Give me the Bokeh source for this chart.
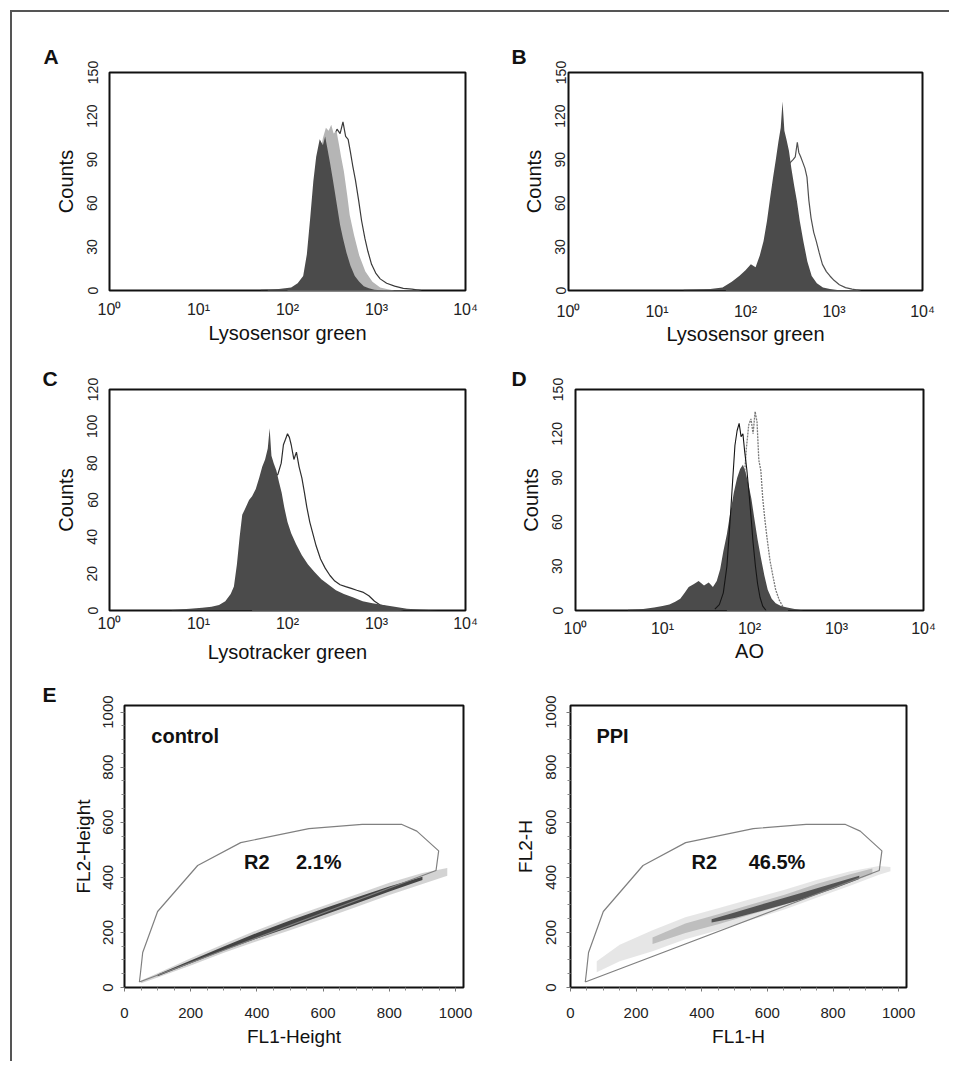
from bokeh.plotting import figure
from bokeh.layouts import column, row
from bokeh.models import FixedTicker, Range1d, Label
from bokeh.embed import file_html
from bokeh.resources import INLINE

FONT = "Liberation Sans"
DARK = "#4b4b4b"
LIGHT = "#b5b5b5"
EDGE = "#3a3a3a"

# ---------------- data ----------------
LOG_TICKS = [1, 10, 100, 1000, 10000]
LOG_TICK_LABELS = ["10\u2070", "10\u00b9", "10\u00b2", "10\u00b3", "10\u2074"]

# Panel A (Lysosensor green)
A_dark_x = [50, 80, 110, 130, 150, 165, 180, 195, 210, 230, 250, 265, 280, 300, 320, 340, 365, 390, 420, 460, 510, 570, 640, 720, 820, 950, 1200]
A_dark_y = [0.5, 1, 2, 5, 10, 25, 50, 75, 92, 104, 100, 106, 98, 88, 78, 68, 56, 45, 36, 26, 17, 10, 6, 3, 1.5, 0.5, 0]
A_light_x = [60, 100, 130, 150, 170, 190, 210, 230, 250, 270, 290, 310, 330, 355, 380, 400, 430, 470, 500, 560, 640, 750, 900, 1100, 1300, 1600]
A_light_y = [0.5, 1, 3, 8, 22, 45, 70, 92, 105, 112, 110, 114, 108, 110, 100, 92, 82, 65, 52, 38, 24, 13, 6, 2, 1, 0]
A_open_x = [100, 150, 180, 210, 240, 270, 300, 330, 360, 390, 420, 450, 480, 510, 540, 580, 630, 680, 740, 800, 880, 980, 1100, 1300, 1600, 2000, 2500, 3200]
A_open_y = [0.5, 3, 12, 30, 55, 80, 98, 105, 111, 108, 116, 106, 104, 95, 86, 76, 62, 48, 36, 27, 18, 12, 8, 5, 3, 1.5, 1, 0]

# Panel B (Lysosensor green)
B_dark_x = [20, 40, 55, 70, 85, 100, 115, 130, 145, 160, 175, 190, 205, 220, 235, 250, 262, 275, 290, 310, 330, 355, 380, 410, 450, 500, 560, 640, 750, 900, 1200]
B_dark_y = [0.5, 1, 2, 6, 10, 14, 18, 16, 24, 34, 48, 64, 78, 90, 102, 112, 130, 110, 104, 96, 84, 72, 62, 48, 34, 20, 10, 5, 2, 1, 0]
B_open_x = [60, 100, 150, 200, 250, 290, 320, 345, 365, 385, 400, 420, 445, 470, 495, 520, 550, 590, 630, 680, 740, 820, 900, 1000, 1150, 1350, 1600, 2000]
B_open_y = [0.5, 3, 12, 35, 68, 84, 88, 90, 92, 102, 95, 92, 88, 84, 78, 62, 50, 40, 34, 26, 18, 13, 10, 7, 4, 2, 1, 0]

# Panel C (Lysotracker green)
C_dark_x = [5, 8, 11, 14, 17, 20, 23, 25, 27, 29, 31, 34, 37, 40, 44, 48, 52, 56, 60, 63, 66, 70, 75, 80, 86, 92, 100, 110, 125, 145, 170, 200, 240, 290, 350, 430, 550, 700, 900, 1200, 1600, 2200, 3000, 5000]
C_dark_y = [0.3, 1, 1.5, 2, 3, 5, 9, 13, 25, 40, 52, 56, 60, 62, 66, 72, 78, 82, 88, 99, 84, 80, 76, 70, 64, 56, 48, 42, 36, 30, 25, 21, 17, 14, 11, 9, 7, 5, 4, 3, 2, 1, 0.5, 0]
C_open_x = [40, 50, 60, 70, 78, 85, 90, 95, 100, 105, 110, 118, 126, 135, 145, 155, 165, 178, 192, 210, 235, 265, 300, 340, 390, 450, 520, 600, 700, 820, 950, 1100, 1300, 1600, 2000]
C_open_y = [50, 60, 68, 72, 74, 80, 90, 93, 96, 94, 90, 82, 86, 78, 72, 64, 56, 48, 42, 35, 28, 23, 19, 16, 14, 13, 12, 11, 10, 8, 5, 3, 2, 1, 0]

# Panel D (AO)
D_dark_x = [4, 6, 8, 10, 12, 14, 16, 18, 20, 23, 26, 30, 34, 38, 42, 46, 50, 55, 60, 66, 72, 78, 84, 90, 97, 105, 114, 124, 135, 148, 162, 180, 200, 230, 270, 330, 420]
D_dark_y = [0.5, 1, 2, 3, 4, 6, 8, 12, 16, 18, 20, 17, 19, 16, 20, 28, 40, 52, 66, 80, 90, 96, 99, 94, 86, 76, 62, 48, 36, 24, 14, 8, 5, 3, 2, 1, 0]
D_black_x = [40, 45, 50, 55, 60, 64, 68, 72, 76, 80, 84, 88, 93, 98, 104, 110, 117, 124, 132, 142, 155]
D_black_y = [1, 4, 12, 30, 62, 88, 112, 122, 127, 118, 120, 108, 96, 82, 64, 46, 30, 18, 9, 3, 0]
D_gray_x = [55, 62, 68, 74, 80, 86, 92, 98, 104, 110, 116, 122, 128, 135, 142, 150, 160, 172, 185, 200, 220, 245, 280]
D_gray_y = [1, 5, 15, 35, 60, 85, 110, 126, 130, 120, 135, 128, 102, 95, 76, 62, 48, 34, 24, 14, 7, 2, 0]

# Panel E (dot plots) - gate R2 and cell cloud outlines
E_TICKS = [0, 200, 400, 600, 800, 1000]
E_MINOR = [50, 100, 150, 250, 300, 350, 450, 500, 550, 650, 700, 750, 850, 900, 950]
GATE_X = [45, 48, 55, 100, 221, 351, 557, 718, 838, 883, 949, 941, 45]
GATE_Y = [20, 50, 127, 276, 443, 526, 577, 592, 592, 568, 496, 425, 20]

CTRL_X = [50, 100, 200, 300, 400, 500, 600, 700, 800, 900, 975]
CTRL_OUT_LO = [15, 36, 80, 126, 168, 208, 250, 292, 336, 376, 406]
CTRL_OUT_HI = [25, 52, 106, 158, 208, 254, 296, 338, 380, 416, 434]
CTRL_CORE_X = [100, 200, 300, 400, 500, 600, 700, 800, 900]
CTRL_CORE_LO = [41, 88, 135, 178, 219, 262, 305, 349, 390]
CTRL_CORE_HI = [47, 98, 149, 198, 243, 286, 327, 367, 402]

PPI_X = [80, 150, 250, 350, 450, 550, 650, 750, 850, 940, 975]
PPI_OUT_LO = [55, 95, 132, 175, 208, 245, 282, 326, 369, 409, 422]
PPI_OUT_HI = [95, 155, 208, 255, 288, 321, 354, 390, 421, 441, 438]
PPI_MID_X = [250, 350, 450, 550, 650, 750, 850, 920]
PPI_MID_LO = [158, 198, 230, 265, 300, 340, 380, 412]
PPI_MID_HI = [182, 232, 266, 301, 336, 376, 410, 432]
PPI_CORE_X = [430, 500, 600, 700, 800, 880]
PPI_CORE_LO = [236, 252, 284, 318, 358, 394]
PPI_CORE_HI = [248, 272, 308, 342, 378, 406]


# ---------------- helpers ----------------
def base_fig(w, h, bl, br, bt, bb, **kw):
    p = figure(width=w, height=h, output_backend="svg", toolbar_location=None,
               min_border_left=bl, min_border_right=br, min_border_top=bt, min_border_bottom=bb, **kw)
    p.xgrid.visible = False
    p.ygrid.visible = False
    p.outline_line_color = "#111111"
    p.outline_line_width = 2
    p.outline_line_alpha = 1
    p.background_fill_color = "white"
    p.border_fill_color = "white"
    for ax in (p.xaxis[0], p.yaxis[0]):
        ax.axis_line_color = None
        ax.major_label_text_font = FONT
        ax.axis_label_text_font = FONT
        ax.axis_label_text_font_style = "normal"
        ax.axis_label_text_color = "#111111"
        ax.major_label_text_color = "#222222"
    return p


def letter(p, txt, offset, standoff):
    t = p.title
    t.text = txt
    t.align = "left"
    t.offset = offset
    t.standoff = standoff
    t.text_font = FONT
    t.text_font_style = "bold"
    t.text_font_size = "21px"
    t.text_color = "#111111"


def hist_fig(w, h, bl, br, bt, bb, ymax, yticks, xlabel, ystand, ylabstand, xstand, xlabstand):
    p = base_fig(w, h, bl, br, bt, bb, x_axis_type="log",
                 x_range=Range1d(1, 10000), y_range=Range1d(0, ymax))
    xa, ya = p.xaxis[0], p.yaxis[0]
    xa.ticker = FixedTicker(ticks=LOG_TICKS)
    xa.major_label_overrides = dict(zip(LOG_TICKS, LOG_TICK_LABELS))
    ya.ticker = FixedTicker(ticks=yticks)
    for ax in (xa, ya):
        ax.major_tick_line_color = None
        ax.minor_tick_line_color = None
        ax.major_tick_out = 0
        ax.major_tick_in = 0
    xa.major_label_text_font_size = "16px"
    ya.major_label_text_font_size = "14px"
    ya.major_label_orientation = "vertical"
    xa.axis_label = xlabel
    ya.axis_label = "Counts"
    xa.axis_label_text_font_size = "20px"
    ya.axis_label_text_font_size = "20px"
    ya.major_label_standoff = ystand
    ya.axis_label_standoff = ylabstand
    xa.major_label_standoff = xstand
    xa.axis_label_standoff = xlabstand
    return p


def open_hist(p, x, y, color=EDGE, dash="solid", width=1.2):
    p.varea(x=x, y1=[0] * len(x), y2=y, fill_color="white")
    p.line(x=x, y=y, line_color=color, line_width=width, line_dash=dash)


def filled_hist(p, x, y, color):
    p.varea(x=x, y1=[0] * len(x), y2=y, fill_color=color)


def dot_fig(w, h, bl, br, bt, bb, xlabel, ylabel, ystand, ylabstand, xstand, xlabstand):
    p = base_fig(w, h, bl, br, bt, bb, x_range=Range1d(0, 1024), y_range=Range1d(0, 1024))
    xa, ya = p.xaxis[0], p.yaxis[0]
    for ax in (xa, ya):
        ax.ticker = FixedTicker(ticks=E_TICKS, minor_ticks=E_MINOR)
        ax.major_tick_line_color = "#777777"
        ax.minor_tick_line_color = "#888888"
        ax.major_tick_out = 4
        ax.major_tick_in = 0
        ax.minor_tick_out = 3
        ax.minor_tick_in = 0
        ax.major_label_text_font_size = "15px"
        ax.axis_label_text_font_size = "19px"
    ya.major_label_orientation = "vertical"
    xa.axis_label = xlabel
    ya.axis_label = ylabel
    ya.major_label_standoff = ystand
    ya.axis_label_standoff = ylabstand
    xa.major_label_standoff = xstand
    xa.axis_label_standoff = xlabstand
    return p


def gate(p):
    p.line(x=GATE_X, y=GATE_Y, line_color="#808080", line_width=1.2)


def band(p, x, lo, hi, color, alpha):
    p.varea(x=x, y1=lo, y2=hi, fill_color=color, fill_alpha=alpha)


def txt(p, x, y, s):
    p.add_layout(Label(x=x, y=y, text=s, text_font=FONT, text_font_style="bold",
                       text_font_size="20px", text_align="left", text_baseline="middle",
                       text_color="#111111"))


# ---------------- panels ----------------
pA = hist_fig(477, 342, 97, 24, 60, 64, 150, [0, 30, 60, 90, 120, 150], "Lysosensor green", 12, 8, 10, 1)
open_hist(pA, A_open_x, A_open_y)
filled_hist(pA, A_light_x, A_light_y, LIGHT)
filled_hist(pA, A_dark_x, A_dark_y, DARK)
letter(pA, "A", -66, 10)

pB = hist_fig(460, 342, 79, 27, 60, 61, 150, [0, 30, 60, 90, 120, 150], "Lysosensor green", 3, 8, 12, 0)
open_hist(pB, B_open_x, B_open_y, color="#505050")
filled_hist(pB, B_dark_x, B_dark_y, DARK)
letter(pB, "B", -57, 10)

pC = hist_fig(477, 313, 97, 24, 32, 57, 120, [0, 20, 40, 60, 80, 100, 120], "Lysotracker green", 12, 8, 4, 6)
open_hist(pC, C_open_x, C_open_y, color="#2e2e2e")
filled_hist(pC, C_dark_x, C_dark_y, DARK)
letter(pC, "C", -67, 0)

pD = hist_fig(460, 313, 86, 26, 35, 52, 150, [0, 30, 60, 90, 120, 150], "AO", 13, 8, 9, 0)
open_hist(pD, D_gray_x, D_gray_y, color="#7a7a7a", dash="2 1", width=1.3)
filled_hist(pD, D_dark_x, D_dark_y, DARK)
pD.line(x=D_black_x, y=D_black_y, line_color="#151515", line_width=1.1)
letter(pD, "D", -64, 0)

pE1 = dot_fig(477, 394, 112, 26, 37, 73, "FL1-Height", "FL2-Height", 8, 6, 16, 5)
band(pE1, CTRL_X, CTRL_OUT_LO, CTRL_OUT_HI, "#a8a8a8", 0.5)
band(pE1, CTRL_CORE_X, CTRL_CORE_LO, CTRL_CORE_HI, "#2a2a2a", 0.85)
gate(pE1)
txt(pE1, 81, 915, "control")
txt(pE1, 361, 457, "R2")
txt(pE1, 518, 457, "2.1%")
letter(pE1, "E", -82, 0)

pE2 = dot_fig(460, 394, 81, 43, 38, 74, "FL1-H", "FL2-H", 11, 7, 16, 5)
band(pE2, PPI_X, PPI_OUT_LO, PPI_OUT_HI, "#d2d2d2", 0.55)
band(pE2, PPI_MID_X, PPI_MID_LO, PPI_MID_HI, "#9c9c9c", 0.55)
band(pE2, PPI_CORE_X, PPI_CORE_LO, PPI_CORE_HI, "#3a3a3a", 0.8)
gate(pE2)
txt(pE2, 79, 915, "PPI")
txt(pE2, 369, 457, "R2")
txt(pE2, 543, 457, "46.5%")

layout = column(
    row(pA, pB), row(pC, pD), row(pE1, pE2),
    styles={"border-left": "2px solid #555555", "border-top": "2px solid #555555"},
    margin=(10, 0, 0, 10),
)

with open("out.html", "w") as f:
    f.write(file_html(layout, INLINE))
